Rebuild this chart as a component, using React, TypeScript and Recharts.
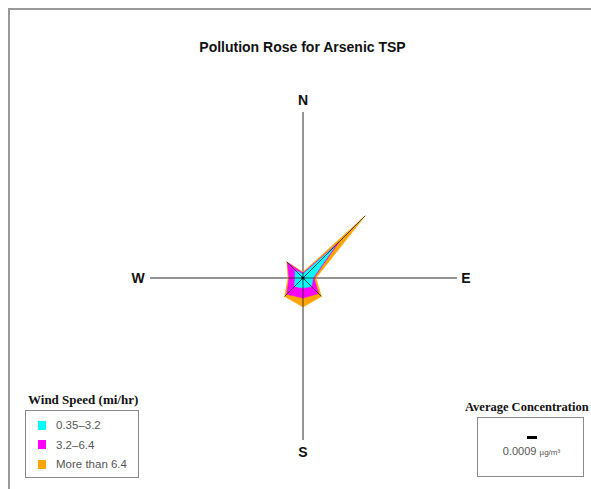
import React from 'react';
import { RadarChart, Radar, PolarGrid, PolarAngleAxis, PolarRadiusAxis } from 'recharts';

// wind directions, clockwise from north
const directions = ['N', 'NE', 'E', 'SE', 'S', 'SW', 'W', 'NW'];

// concentration contribution per speed band (rose units)
const lowSpeed = [4, 46, 10, 12, 10, 12, 8, 11];
const midSpeed = [1, 5, 1, 10, 10, 11, 6, 11];
const highSpeed = [1, 37, 2, 4, 9, 3, 1, 1];

const bandLabels = ['0.35\u20133.2', '3.2\u20136.4', 'More than 6.4'];
const bandColors = ['#00FFFF', '#FF00FF', '#FFA500'];

const compassLabels = ['N', 'E', 'S', 'W'];
const avgConcentration = '0.0009';

const data = directions.map((dir, i) => ({
  dir,
  low: lowSpeed[i],
  mid: lowSpeed[i] + midSpeed[i],
  total: lowSpeed[i] + midSpeed[i] + highSpeed[i],
}));

// compass arms: [angle, length]
const arms: [number, number][] = [
  [90, 166],
  [-90, 162],
  [180, 153],
  [0, 154],
];

const CX = 295;
const CY = 270;
const W = 583;
const H = 481;

const labelOffset: Record<string, [number, number]> = {
  N: [0, -10],
  S: [0, 6],
  E: [-5, 0],
  W: [3, 0],
};

const CompassTick = (props: any) => {
  const { x, y, payload } = props;
  if (!compassLabels.includes(payload.value)) return null;
  const [dx, dy] = labelOffset[payload.value];
  return (
    <text
      x={x + dx}
      y={y + dy}
      textAnchor="middle"
      dominantBaseline="central"
      fontFamily="'Liberation Sans', Arial, sans-serif"
      fontWeight="bold"
      fontSize={14}
      fill="#111"
    >
      {payload.value}
    </text>
  );
};

const SpokeShape = (props: any) => {
  const { points } = props;
  if (!points || !points.length) return null;
  const { cx, cy } = points[0];
  return (
    <g>
      {points.map((p: any, i: number) => (
        <line key={i} x1={cx} y1={cy} x2={p.x} y2={p.y} stroke="#222" strokeWidth={0.8} />
      ))}
      <circle cx={cx} cy={cy} r={1.6} fill="#000" />
    </g>
  );
};

const serif = "'Liberation Serif', 'Times New Roman', serif";
const sans = "'Liberation Sans', Arial, sans-serif";

const layer: React.CSSProperties = { position: 'absolute', left: 0, top: 0 };

export default function App() {
  return (
    <div style={{ position: 'fixed', left: 8, top: 8, width: W, height: H, overflow: 'hidden', background: '#fff' }}>
      <div
        style={{
          position: 'absolute',
          left: 0,
          top: 0,
          width: 700,
          height: 600,
          border: '2px solid #9a9a9a',
        }}
      />
      <div
        style={{
          position: 'absolute',
          left: 0,
          top: 31,
          width: 589,
          textAlign: 'center',
          fontFamily: sans,
          fontWeight: 'bold',
          fontSize: 14,
          lineHeight: '16px',
          color: '#111',
        }}
      >
        Pollution Rose for Arsenic TSP
      </div>

      {/* compass arms, one grid per arm so each can have its own length */}
      {arms.map(([angle, len]) => (
        <div key={angle} style={layer}>
          <RadarChart width={W} height={H} cx={CX} cy={CY} outerRadius={len} data={data} margin={{ top: 0, right: 0, bottom: 0, left: 0 }}>
            <PolarGrid polarAngles={[angle]} polarRadius={[]} stroke="#707070" strokeWidth={1.5} />
          </RadarChart>
        </div>
      ))}

      <div style={layer}>
        <RadarChart
          width={W}
          height={H}
          cx={CX}
          cy={CY}
          outerRadius={160}
          data={data}
          margin={{ top: 0, right: 0, bottom: 0, left: 0 }}
        >
          <PolarAngleAxis dataKey="dir" axisLine={false} tickLine={false} tick={<CompassTick />} />
          <PolarRadiusAxis domain={[0, 160]} tick={false} axisLine={false} />
          <Radar dataKey="total" fill={bandColors[2]} fillOpacity={1} stroke={bandColors[2]} strokeWidth={0.5} dot={false} isAnimationActive={false} />
          <Radar dataKey="mid" fill={bandColors[1]} fillOpacity={1} stroke={bandColors[1]} strokeWidth={0.5} dot={false} isAnimationActive={false} />
          <Radar dataKey="low" fill={bandColors[0]} fillOpacity={1} stroke={bandColors[0]} strokeWidth={0.5} dot={false} isAnimationActive={false} />
          <Radar dataKey="total" fill="none" stroke="none" dot={false} shape={SpokeShape} legendType="none" isAnimationActive={false} />
        </RadarChart>
      </div>

      {/* wind speed legend */}
      <div
        style={{
          position: 'absolute',
          left: 20,
          top: 384,
          fontFamily: serif,
          fontWeight: 'bold',
          fontSize: 13,
          lineHeight: '16px',
          color: '#111',
          whiteSpace: 'nowrap',
        }}
      >
        Wind Speed (mi/hr)
      </div>
      <div
        style={{
          position: 'absolute',
          left: 17,
          top: 402,
          width: 112,
          height: 66,
          border: '1px solid #8a8a8a',
        }}
      >
        {bandLabels.map((label, i) => (
          <div
            key={label}
            style={{
              position: 'absolute',
              left: 12,
              top: 4 + i * 19.5,
              height: 20,
              display: 'flex',
              alignItems: 'center',
              whiteSpace: 'nowrap',
            }}
          >
            <div style={{ width: 8, height: 9, background: bandColors[i], marginRight: 10 }} />
            <span style={{ fontFamily: sans, fontSize: 11.5, color: '#555' }}>{label}</span>
          </div>
        ))}
      </div>

      {/* average concentration */}
      <div
        style={{
          position: 'absolute',
          left: 457,
          top: 391,
          fontFamily: serif,
          fontWeight: 'bold',
          fontSize: 12.5,
          lineHeight: '16px',
          color: '#111',
          whiteSpace: 'nowrap',
        }}
      >
        Average Concentration
      </div>
      <div
        style={{
          position: 'absolute',
          left: 469,
          top: 409,
          width: 105,
          height: 58,
          border: '1px solid #8a8a8a',
        }}
      >
        <div style={{ position: 'absolute', left: 49, top: 18, width: 10, height: 2.5, background: '#000' }} />
        <div
          style={{
            position: 'absolute',
            left: 0,
            top: 27,
            width: 107,
            textAlign: 'center',
            fontFamily: sans,
            fontSize: 11,
            color: '#555',
            whiteSpace: 'nowrap',
          }}
        >
          {avgConcentration} <span style={{ fontSize: 8 }}>µg/m³</span>
        </div>
      </div>
    </div>
  );
}
